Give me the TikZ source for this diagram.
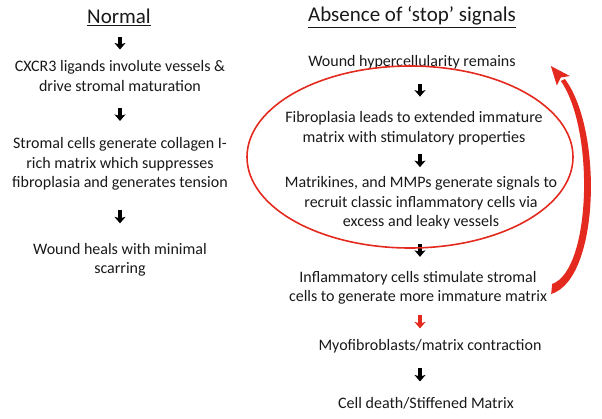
\documentclass[tikz,border=0pt]{standalone}
\usepackage{fontspec}
\setmainfont{Carlito}
\usetikzlibrary{arrows.meta,calc}
\definecolor{loopred}{RGB}{228,42,30}
\definecolor{txt}{RGB}{25,25,25}

% short downward arrow half way between two nodes, on a given column
\newcommand{\flowdown}[4][]{%
  \coordinate (mid) at ($(#3.south)!.5!(#4.north)$);
  \draw[downarr,#1] (#2 |- mid) ++(0,-6.5) -- ++(0,13);}

\begin{document}
\begin{tikzpicture}[x=1pt,y=-1pt,
    body/.style={align=center,text=txt,inner sep=1pt,font=\fontsize{16}{19.5}\selectfont},
    head/.style={text=txt,inner sep=1pt,font=\fontsize{21}{22}\selectfont},
    downarr/.style={line width=3.2pt,-{Stealth[length=6.5pt,width=11pt,inset=1.5pt]}}]
        \useasboundingbox (0,0) rectangle (602,418);
        \coordinate (lcol) at (120,0);
        \coordinate (rcol) at (420,0);

        % normal healing
        \node[head] (normal) at (119,17) {\underline{Normal}};
        \node[body] (cxcr) at (120,76) {CXCR3 ligands involute vessels \&\\drive stromal maturation};
        \node[body] (stromal) at (120,164) {Stromal cells generate collagen I-\\rich matrix which suppresses\\fibroplasia and generates tension};
        \node[body] (heals) at (120,260) {Wound heals with minimal\\scarring};

        % no stop signals
        \node[head] (absence) at (412,17) {\underline{Absence of `stop' signals}};
        \node[body] (hyper) at (412,62) {Wound hypercellularity remains};
        \node[body] (fibro) at (414,128) {Fibroplasia leads to extended immature\\matrix with stimulatory properties};
        \node[body] (matri) at (421,203) {Matrikines, and MMPs generate signals to\\recruit classic inflammatory cells via\\excess and leaky vessels};
        \node[body] (infl) at (418,288) {Inflammatory cells stimulate stromal\\cells to generate more immature matrix};
        \node[body] (myo) at (430,346) {Myofibroblasts/matrix contraction};
        \node[body] (death) at (426,403) {Cell death/Stiffened Matrix};

        \flowdown{lcol}{normal}{cxcr}
        \flowdown{lcol}{cxcr}{stromal}
        \flowdown{lcol}{stromal}{heals}

        \flowdown{rcol}{hyper}{fibro}
        \flowdown{rcol}{fibro}{matri}
        \flowdown{rcol}{matri}{infl}
        \flowdown[loopred]{rcol}{infl}{myo}
        \flowdown{rcol}{myo}{death}

        % red loop
        \draw[loopred, line width=1.6pt] (410,157) ellipse [x radius=163, y radius=91];
        \coordinate (loopStart) at ($(infl.east)+(3,1)$);
        \coordinate (loopTip) at ($(hyper.east)+(34,4)$);
        \fill[loopred] ($(loopStart)+(0,5)$) .. controls +(49,-15) and +(38,50) .. ($(loopTip)+(14,13)$)
            -- ($(loopTip)+(10,15)$) .. controls +(34,49) and +(39,-14) .. ($(loopStart)+(1,-5)$) -- cycle;
        \fill[loopred] (loopTip) -- +(19,10) -- +(10,11.5) -- +(6,19.5) -- cycle;
    \end{tikzpicture}
\end{document}
